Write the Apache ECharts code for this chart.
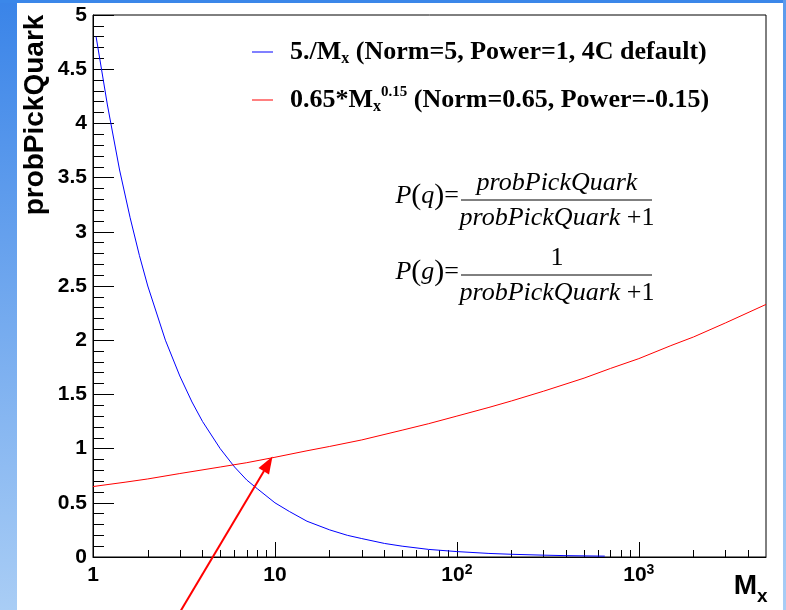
<!DOCTYPE html>
<html>
<head>
<meta charset="utf-8">
<title>probPickQuark vs Mx</title>
<script src="https://cdn.jsdelivr.net/npm/echarts@6.0.0/dist/echarts.min.js"></script>
<style>
  html, body { margin: 0; padding: 0; background: #fff; }
  #chart { width: 786px; height: 610px; }
</style>
</head>
<body>
<div id="chart"></div>
<script>
// curve samples: Mx and probPickQuark
const blueX = [1.04, 1.2, 1.4, 1.6, 1.8, 2, 2.5, 3, 3.5, 4, 5, 6, 7, 8, 10, 12, 15, 20, 25, 30, 40, 50, 70, 100, 150, 200, 300, 400, 650];
const blueY = [4.8, 4.17, 3.57, 3.13, 2.78, 2.5, 2.0, 1.67, 1.43, 1.25, 1.0, 0.83, 0.71, 0.63, 0.5, 0.42, 0.33, 0.25, 0.2, 0.17, 0.125, 0.1, 0.07, 0.05, 0.033, 0.025, 0.017, 0.0125, 0.008];
const redX = [1, 1.5, 2, 3, 5, 7, 10, 15, 20, 30, 50, 70, 100, 150, 200, 300, 500, 700, 1000, 1500, 2000, 3000, 5000];
const redY = [0.65, 0.69, 0.72, 0.77, 0.83, 0.87, 0.92, 0.98, 1.02, 1.08, 1.17, 1.23, 1.30, 1.38, 1.44, 1.53, 1.65, 1.74, 1.83, 1.95, 2.03, 2.16, 2.33];

const blueName = '5./M{sub|x} (Norm=5, Power=1, 4C default)';
const redName = '0.65*M{sub|x}{sup|0.15} (Norm=0.65, Power=-0.15)';

const xMin = 1;
const xMax = 5000;
const xMajorLabels = { 1: '1', 10: '10', 100: '10{sup|2}', 1000: '10{sup|3}' };
const xMinorTicks = [2, 3, 4, 5, 6, 7, 8, 9, 20, 30, 40, 50, 60, 70, 80, 90, 200, 300, 400, 500, 600, 700, 800, 900, 2000, 3000, 4000];

const SANS = '"Liberation Sans", Arial, sans-serif';
const SERIF = '"Liberation Serif", "Times New Roman", serif';

const chart = echarts.init(document.getElementById('chart'));

const legendText = {
    fontFamily: SERIF,
    fontWeight: 'bold',
    fontSize: 26,
    lineHeight: 30,
    color: '#000',
    padding: [0, 0, 0, 12],
    rich: {
        sub: { fontFamily: SERIF, fontWeight: 'bold', fontSize: 16, verticalAlign: 'bottom', color: '#000' },
        sup: { fontFamily: SERIF, fontWeight: 'bold', fontSize: 15, verticalAlign: 'top', color: '#000' }
    }
};

const formulaRich = {
    i: { fontFamily: SERIF, fontStyle: 'italic', fontSize: 26 },
    p: { fontFamily: SERIF, fontSize: 30 }
};

const option = {
    animation: false,
    backgroundColor: '#fff',
    grid: {
        left: 93,
        right: 20,
        top: 15,
        bottom: 53,
        show: true,
        borderColor: '#000',
        borderWidth: 1
    },
    legend: [
        {
            data: [blueName], left: 252, top: 37, padding: 0,
            icon: 'rect', itemWidth: 21, itemHeight: 1,
            formatter: (n) => n, textStyle: legendText
        },
        {
            data: [redName], left: 252, top: 85, padding: 0,
            icon: 'rect', itemWidth: 21, itemHeight: 1,
            formatter: (n) => n, textStyle: legendText
        }
    ],
    xAxis: [
        {
            type: 'log',
            logBase: 10,
            min: xMin,
            max: xMax,
            position: 'bottom',
            axisLine: { show: true, lineStyle: { color: '#000', width: 1 } },
            axisTick: { show: true, inside: true, length: 15, lineStyle: { color: '#000' } },
            splitLine: { show: false },
            axisLabel: {
                showMaxLabel: false,
                margin: 6,
                color: '#000',
                fontFamily: SANS,
                fontWeight: 'bold',
                fontSize: 21,
                lineHeight: 24,
                formatter: (v) => xMajorLabels[Math.round(v)] || '',
                rich: {
                    sup: { fontFamily: SANS, fontWeight: 'bold', fontSize: 14, verticalAlign: 'top', color: '#000' }
                }
            }
        },
        {
            // minor decade ticks (2..9 of each decade)
            type: 'value',
            min: 0,
            max: Math.log10(xMax),
            position: 'bottom',
            axisLine: { show: false },
            axisLabel: { show: false },
            splitLine: { show: false },
            axisTick: {
                show: true,
                inside: true,
                length: 7,
                customValues: xMinorTicks.map((v) => Math.log10(v)),
                lineStyle: { color: '#000' }
            }
        }
    ],
    yAxis: {
        type: 'value',
        min: 0,
        max: 5,
        interval: 0.5,
        axisLine: { show: true, lineStyle: { color: '#000', width: 1 } },
        axisTick: { show: true, inside: true, length: 21, lineStyle: { color: '#000' } },
        minorTick: { show: true, splitNumber: 5, length: 11, lineStyle: { color: '#000' } },
        splitLine: { show: false },
        axisLabel: {
            margin: 6,
            color: '#000',
            fontFamily: SANS,
            fontWeight: 'bold',
            fontSize: 21
        }
    },
    series: [
        {
            name: blueName,
            type: 'line',
            xAxisIndex: 0,
            data: blueX.map((x, i) => [x, blueY[i]]),
            symbol: 'none',
            lineStyle: { color: '#0000ff', width: 1 },
            itemStyle: { color: '#0000ff' }
        },
        {
            name: redName,
            type: 'line',
            xAxisIndex: 0,
            data: redX.map((x, i) => [x, redY[i]]),
            symbol: 'none',
            lineStyle: { color: '#ff0000', width: 1 },
            itemStyle: { color: '#ff0000' }
        }
    ],
    graphic: [
        // slide background edges
        {
            type: 'rect', z: -10, silent: true,
            shape: { x: 0, y: 0, width: 17, height: 610 },
            style: { fill: new echarts.graphic.LinearGradient(0, 0, 0, 1, [
                { offset: 0, color: '#3a84e8' }, { offset: 1, color: '#a9cdf5' }
            ]) }
        },
        {
            type: 'rect', z: -10, silent: true,
            shape: { x: 0, y: 0, width: 786, height: 3 },
            style: { fill: '#3b87e9' }
        },
        {
            type: 'rect', z: -10, silent: true,
            shape: { x: 783, y: 0, width: 3, height: 610 },
            style: { fill: new echarts.graphic.LinearGradient(0, 0, 0, 1, [
                { offset: 0, color: '#5b9aec' }, { offset: 1, color: '#a9cdf5' }
            ]) }
        },
        // axis titles
        {
            type: 'text', x: 35, y: 115, rotation: Math.PI / 2,
            style: {
                text: 'probPickQuark', fill: '#000',
                fontFamily: SANS, fontWeight: 'bold', fontSize: 28,
                align: 'center', verticalAlign: 'middle'
            }
        },
        {
            type: 'text', x: 757, y: 586,
            style: {
                text: 'M', fill: '#000',
                fontFamily: SANS, fontWeight: 'bold', fontSize: 28,
                align: 'right', verticalAlign: 'middle'
            }
        },
        {
            type: 'text', x: 757, y: 597,
            style: {
                text: 'x', fill: '#000',
                fontFamily: SANS, fontWeight: 'bold', fontSize: 19,
                align: 'left', verticalAlign: 'middle'
            }
        },
        // P(q) formula
        {
            type: 'text', x: 459, y: 196,
            style: {
                text: '{i|P}{p|(}{i|q}{p|)}=', fill: '#000',
                fontFamily: SERIF, fontSize: 26, align: 'right', verticalAlign: 'middle',
                rich: formulaRich
            }
        },
        {
            type: 'line', shape: { x1: 461, y1: 200, x2: 652, y2: 200 },
            style: { stroke: '#000', lineWidth: 1 }
        },
        {
            type: 'text', x: 557, y: 183,
            style: {
                text: 'probPickQuark', fill: '#000',
                fontFamily: SERIF, fontStyle: 'italic', fontSize: 26,
                align: 'center', verticalAlign: 'middle'
            }
        },
        {
            type: 'text', x: 557, y: 218,
            style: {
                text: '{i|probPickQuark} +1', fill: '#000',
                fontFamily: SERIF, fontSize: 26, align: 'center', verticalAlign: 'middle',
                rich: formulaRich
            }
        },
        // P(g) formula
        {
            type: 'text', x: 459, y: 272,
            style: {
                text: '{i|P}{p|(}{i|g}{p|)}=', fill: '#000',
                fontFamily: SERIF, fontSize: 26, align: 'right', verticalAlign: 'middle',
                rich: formulaRich
            }
        },
        {
            type: 'line', shape: { x1: 461, y1: 275, x2: 652, y2: 275 },
            style: { stroke: '#000', lineWidth: 1 }
        },
        {
            type: 'text', x: 557, y: 258,
            style: {
                text: '1', fill: '#000',
                fontFamily: SERIF, fontSize: 26,
                align: 'center', verticalAlign: 'middle'
            }
        },
        {
            type: 'text', x: 557, y: 293,
            style: {
                text: '{i|probPickQuark} +1', fill: '#000',
                fontFamily: SERIF, fontSize: 26, align: 'center', verticalAlign: 'middle',
                rich: formulaRich
            }
        },
        // red annotation arrow
        {
            type: 'polyline', z: 20,
            shape: { points: [[180, 612], [264, 471]] },
            style: { stroke: '#ff0000', lineWidth: 2, fill: null }
        },
        {
            type: 'polygon', z: 20,
            shape: { points: [[272.5, 456.5], [269, 474.5], [258.5, 468]] },
            style: { fill: '#ff0000' }
        }
    ]
};

chart.setOption(option);
</script>
</body>
</html>
